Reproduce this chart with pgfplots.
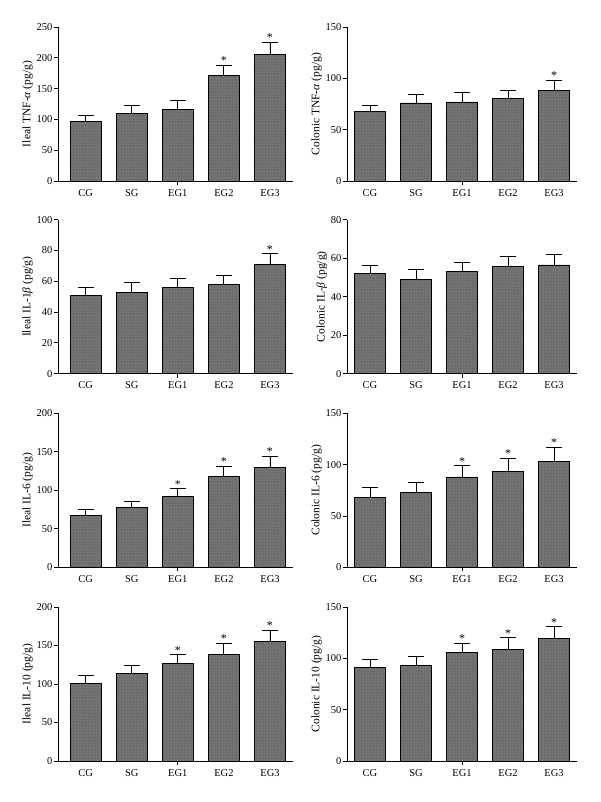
\documentclass[border=0pt]{standalone}
\usepackage{fontspec}
\setmainfont{Liberation Serif}
\usepackage{pgfplots}
\usepackage{pgfplotstable}
\pgfplotsset{compat=1.18}
\usetikzlibrary{patterns}
\definecolor{barfill}{RGB}{108,108,108}
\definecolor{dotcol}{RGB}{175,175,175}

\pgfplotstableread{
x y e
0 97 10
1 110 12
2 116 15
3 171 17
4 206 19
}\tA
\pgfplotstableread{
x y e
0 68 6
1 76 8
2 77 9
3 80 8
4 88 10
}\tB
\pgfplotstableread{
x y e
0 51 5
1 53 6
2 56 6
3 58 6
4 71 7
}\tC
\pgfplotstableread{
x y e
0 52 4.5
1 49 5
2 53 5
3 55.5 5.5
4 56.5 5.5
}\tD
\pgfplotstableread{
x y e
0 67 8
1 78 8
2 92 10
3 118 13
4 130 14
}\tE
\pgfplotstableread{
x y e
0 68 10
1 73 10
2 88 11
3 93 13
4 103 14
}\tF
\pgfplotstableread{
x y e
0 101 10
1 114 10
2 127 11
3 138 15
4 155 15
}\tG
\pgfplotstableread{
x y e
0 91 8
1 93 9
2 106 9
3 109 11
4 119 12
}\tH

\pgfplotsset{
  panel/.style={
    scale only axis, anchor=south west, clip=false,
    height=154pt,
    ymin=0, xmax=4.5,
    axis lines=left, axis line style={-, line width=0.8pt},
    xtick={0,1,2,3,4}, xticklabels={CG,SG,EG1,EG2,EG3},
    x tick style={draw=none},
    y tick style={line width=0.8pt, black},
    tick align=outside, major tick length=4pt,
    tick label style={font=\fontsize{10.5}{12}\selectfont},
    yticklabel style={inner sep=1.5pt},
    xticklabel style={inner sep=4pt},
    /pgf/number format/assume math mode=true,
    ylabel style={font=\fontsize{11.5}{13}\selectfont, inner sep=2pt},
  },
  bars/.style={
    ybar, bar width=0.67, draw=black, line width=0.8pt, fill=barfill,
    postaction={pattern=dots, pattern color=dotcol},
    error bars/.cd, y dir=plus, y explicit,
    error bar style={line width=0.8pt, black},
    error mark options={rotate=90, mark size=8pt, line width=0.8pt, black},
  },
  stars/.style={
    draw=none, mark=none, nodes near coords={*},
    every node near coord/.append style={anchor=base, yshift=0.5pt, inner sep=0pt, font=\fontsize{12}{12}\selectfont},
  },
}
\newcommand{\midtick}{\draw[line width=0.8pt] (axis cs:2,0) -- ([yshift=-4pt]axis cs:2,0);}

\begin{document}
\begin{tikzpicture}
\path[use as bounding box] (0,0) rectangle (600pt,802pt);

% Row 1
\begin{axis}[panel, at={(58pt,621pt)}, width=235pt, xmin=-0.6, ymax=250, ytick={0,50,...,250},
  ylabel={Ileal TNF-\textit{α} (pg/g)}]
\addplot[bars] table[x=x,y=y,y error=e]{\tA};
\addplot[stars] coordinates {(3,188) (4,225)};
\midtick
\end{axis}
\begin{axis}[panel, at={(347pt,621pt)}, width=230pt, xmin=-0.5, ymax=150, ytick={0,50,...,150},
  ylabel={Colonic TNF-\textit{α} (pg/g)}]
\addplot[bars] table[x=x,y=y,y error=e]{\tB};
\addplot[stars] coordinates {(4,98)};
\midtick
\end{axis}

% Row 2
\begin{axis}[panel, at={(58pt,428.3pt)}, width=235pt, xmin=-0.6, ymax=100, ytick={0,20,...,100},
  ylabel={Ileal IL-1\textit{β} (pg/g)}]
\addplot[bars] table[x=x,y=y,y error=e]{\tC};
\addplot[stars] coordinates {(4,78)};
\midtick
\end{axis}
\begin{axis}[panel, at={(347pt,428.3pt)}, width=230pt, xmin=-0.5, ymax=80, ytick={0,20,...,80},
  ylabel={Colonic IL-\textit{β} (pg/g)}]
\addplot[bars] table[x=x,y=y,y error=e]{\tD};
\midtick
\end{axis}

% Row 3
\begin{axis}[panel, at={(58pt,234.7pt)}, width=235pt, xmin=-0.6, ymax=200, ytick={0,50,...,200},
  ylabel={Ileal IL-6 (pg/g)}]
\addplot[bars] table[x=x,y=y,y error=e]{\tE};
\addplot[stars] coordinates {(2,102) (3,131) (4,144)};
\midtick
\end{axis}
\begin{axis}[panel, at={(347pt,234.7pt)}, width=230pt, xmin=-0.5, ymax=150, ytick={0,50,...,150},
  ylabel={Colonic IL-6 (pg/g)}]
\addplot[bars] table[x=x,y=y,y error=e]{\tF};
\addplot[stars] coordinates {(2,99) (3,106) (4,117)};
\midtick
\end{axis}

% Row 4
\begin{axis}[panel, at={(58pt,41pt)}, width=235pt, xmin=-0.6, ymax=200, ytick={0,50,...,200},
  ylabel={Ileal IL-10 (pg/g)}]
\addplot[bars] table[x=x,y=y,y error=e]{\tG};
\addplot[stars] coordinates {(2,138) (3,153) (4,170)};
\midtick
\end{axis}
\begin{axis}[panel, at={(347pt,41pt)}, width=230pt, xmin=-0.5, ymax=150, ytick={0,50,...,150},
  ylabel={Colonic IL-10 (pg/g)}]
\addplot[bars] table[x=x,y=y,y error=e]{\tH};
\addplot[stars] coordinates {(2,115) (3,120) (4,131)};
\midtick
\end{axis}
\end{tikzpicture}
\end{document}
